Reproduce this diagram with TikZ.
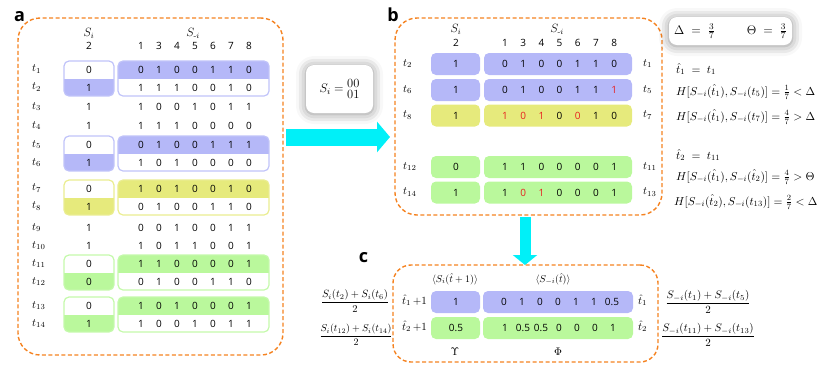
\documentclass[tikz,border=0pt]{standalone}
\usepackage{fix-cm}
\usepackage{amsmath}
\usepackage{fontspec}
\setsansfont{Open Sans}
\usetikzlibrary{arrows.meta,shadows.blur}
\definecolor{dorange}{RGB}{245,130,32}
\definecolor{cblue}{RGB}{181,184,248}
\definecolor{cyel}{RGB}{230,234,124}
\definecolor{cgreen}{RGB}{186,248,156}
\definecolor{cred}{RGB}{232,30,30}
\definecolor{ccyan}{RGB}{0,240,248}
\newcommand{\redd}[1]{\textcolor{cred}{#1}}
\newcommand{\fsz}[1]{\fontsize{#1}{#1}\selectfont}
\newcommand{\mypair}[2]{%
  \begin{scope}
    \clip[rounded corners=5pt] (64,#1) rectangle (114,#1+35);
    \fill[#2] (64,#1+17.5) rectangle (114,#1+35);
  \end{scope}
  \begin{scope}
    \clip[rounded corners=5pt] (118,#1) rectangle (269,#1+35);
    \fill[#2] (118,#1) rectangle (269,#1+17.5);
  \end{scope}
  \draw[#2!85, line width=1.2pt, rounded corners=5pt] (64,#1) rectangle (114,#1+35);
  \draw[#2!85, line width=1.2pt, rounded corners=5pt] (118,#1) rectangle (269,#1+35);
}
\tikzset{
  panel/.style={draw=dorange, dash pattern=on 4pt off 2.5pt, line width=1.4pt, rounded corners=22pt, inner sep=0pt},
  dig/.style={font=\sffamily\fsz{10}, inner sep=0pt},
  lab/.style={font=\fsz{11}, inner sep=0pt, anchor=west, text height=7pt, text depth=2.5pt},
  hdr/.style={font=\fsz{12}, inner sep=0pt},
  plabel/.style={font=\sffamily\bfseries\fsz{18}, inner sep=0pt},
  eq/.style={font=\fsz{11.5}, inner sep=0pt, anchor=west},
  frc/.style={font=\fsz{11}, inner sep=0pt},
  bigarrow/.style={draw=ccyan, line width=17pt, -{Triangle[length=13pt,width=30pt]}},
  smallarrow/.style={draw=ccyan, line width=11pt, -{Triangle[length=10pt,width=24pt]}},
  shbox/.style={fill=white, rounded corners=8pt, inner sep=0pt, blur shadow={shadow xshift=0pt, shadow yshift=-1pt, shadow blur radius=10pt, shadow opacity=45}},
}
\begin{document}
\begin{tikzpicture}[x=1pt,y=-1pt]
\useasboundingbox (0,0) rectangle (831,373);
% ---------------- panel a
\node[plabel] (la) at (19.5,17) {a};
\node[panel, minimum width=265pt, minimum height=337pt] (pa) at (150.5,186.5) {};
\node[hdr] (ahs) at (89,33) {$S_i$};
\node[dig] (ah2) at (89,46) {2};
\node[hdr] (ahm) at (193,33) {$S_{\text{-}i}$};
\foreach \v [count=\c] in {1,3,4,5,6,7,8} {\node[dig] (ahc\c) at (123+18*\c,46) {\v};}
\mypair{61}{cblue}
\mypair{136}{cblue}
\mypair{180}{cyel}
\mypair{255}{cgreen}
\mypair{297}{cgreen}
\foreach \y/\n/\s/\vals in {
69.5/1/0/{0,1,0,0,1,1,0},
87.5/2/1/{1,1,1,0,0,1,0},
107/3/1/{1,0,0,1,0,1,1},
126/4/1/{1,1,1,0,0,0,0},
145/5/0/{0,1,0,0,1,1,1},
163/6/1/{1,0,1,0,0,0,0},
188.5/7/0/{1,0,1,0,0,1,0},
206.5/8/1/{0,1,0,0,1,1,0},
228/9/1/{0,0,1,0,0,1,1},
246/10/1/{1,0,1,1,0,0,1},
264/11/0/{1,1,0,0,0,0,1},
282/12/0/{0,1,0,0,1,1,0},
306/13/0/{1,0,1,0,0,0,1},
324/14/1/{1,0,0,1,0,1,1}}{
  \node[lab] (at\n) at (32,\y) {$t_{\n}$};
  \node[dig] (as\n) at (89,\y) {\s};
  \foreach \v [count=\c] in \vals {\node[dig] (a\n-\c) at (123+18*\c,\y) {\v};}
}
% ---------------- middle box
\node[shbox, minimum width=67pt, minimum height=48pt, font=\fsz{12.5}] (sbox) at (339.5,89) {$S_i=\vcenter{\hbox{\shortstack{00\\01}}}$};
\coordinate (ab1) at (286,137);
\coordinate (ab2) at (390,137);
\draw[bigarrow] (ab1) -- (ab2);
% ---------------- panel b
\node[plabel] (lb) at (393,15) {b};
\node[panel, minimum width=267pt, minimum height=197pt] (pb) at (528.5,116.5) {};
\node[hdr] (bhs) at (456,29) {$S_i$};
\node[dig] (bh2) at (456,43) {2};
\node[hdr] (bhm) at (557,29) {$S_{\text{-}i}$};
\foreach \v [count=\c] in {1,3,4,5,6,7,8} {\node[dig] (bhc\c) at (486.8+18.2*\c,43) {\v};}
\foreach \y/\l/\r/\col/\s/\vals in {
64/2/1/cblue/1/{0,1,0,0,1,1,0},
90/6/5/cblue/1/{0,1,0,0,1,1,\redd{1}},
115.5/8/7/cyel/1/{\redd{1},\redd{0},\redd{1},0,\redd{0},1,0},
167/12/11/cgreen/0/{1,1,0,0,0,0,1},
192.5/14/13/cgreen/1/{1,\redd{0},\redd{1},0,0,0,1}}{
  \fill[\col, rounded corners=5pt] (431,\y-11) rectangle (480,\y+11);
  \fill[\col, rounded corners=5pt] (484,\y-11) rectangle (632,\y+11);
  \node[lab] (bl\l) at (403,\y) {$t_{\l}$};
  \node[lab] (br\r) at (643,\y) {$t_{\r}$};
  \node[dig] (bs\l) at (456,\y) {\s};
  \foreach \v [count=\c] in \vals {\node[dig] (b\l-\c) at (486.8+18.2*\c,\y) {\v};}
}
% ---------------- right annotations
\node[shbox, minimum width=123pt, minimum height=28pt, font=\fsz{12.5}] (dbox) at (730.5,31) {$\Delta\;=\;\frac{3}{7}\qquad\;\;\Theta\;=\;\frac{3}{7}$};
\node[eq] (e1) at (676,69) {$\hat{t}_1\;=\;t_1$};
\node[eq] (e2) at (676,92) {$H[S_{-i}(\hat{t}_1),S_{-i}(t_5)]=\frac{1}{7}<\Delta$};
\node[eq] (e3) at (676,117) {$H[S_{-i}(\hat{t}_1),S_{-i}(t_7)]=\frac{4}{7}>\Delta$};
\node[eq] (e4) at (676,155) {$\hat{t}_2\;=\;t_{11}$};
\node[eq] (e5) at (676,177) {$H[S_{-i}(\hat{t}_1),S_{-i}(\hat{t}_2)]=\frac{4}{7}>\Theta$};
\node[eq] (e6) at (674,202) {$H[S_{-i}(\hat{t}_2),S_{-i}(t_{13})]=\frac{2}{7}<\Delta$};
% ---------------- arrow b -> c
\coordinate (bc1) at (525,217);
\coordinate (bc2) at (525,265);
\draw[smallarrow] (bc1) -- (bc2);
% ---------------- panel c
\node[plabel] (lc) at (363.5,258) {c};
\node[panel, rounded corners=18pt, minimum width=265pt, minimum height=97pt] (pc) at (525.5,313.5) {};
\node[frc, font=\fsz{10}] (chs) at (455,279) {$\langle S_i(\hat{t}+1)\rangle$};
\node[frc, font=\fsz{10}] (chm) at (553,279) {$\langle S_{-i}(\hat{t})\rangle$};
\fill[cblue, rounded corners=5pt] (431,291) rectangle (480,313);
\fill[cblue, rounded corners=5pt] (483,291) rectangle (633,313);
\fill[cgreen, rounded corners=5pt] (431,317) rectangle (480,339);
\fill[cgreen, rounded corners=5pt] (483,317) rectangle (633,339);
\node[lab] (cl1) at (402,302) {$\hat{t}_1\,{+}1$};
\node[lab] (cl2) at (402,328) {$\hat{t}_2\,{+}1$};
\node[lab] (cr1) at (638,302) {$\hat{t}_1$};
\node[lab] (cr2) at (638,328) {$\hat{t}_2$};
\node[dig] (cs1) at (456,302) {1};
\node[dig] (cs2) at (456,328) {0.5};
\foreach \v [count=\c] in {0,1,0,0,1,1,0.5} {\node[dig] (c1-\c) at (486+18*\c,302) {\v};}
\foreach \v [count=\c] in {1,0.5,0.5,0,0,0,1} {\node[dig] (c2-\c) at (487+18*\c,328) {\v};}
\node[frc] (cy) at (455,352) {$\Upsilon$};
\node[frc] (cphi) at (558,352) {$\Phi$};
\node[frc, font=\fsz{10.5}] (fl1) at (355,301) {$\dfrac{S_i(t_2)+S_i(t_6)}{2}$};
\node[frc, font=\fsz{10}] (fl2) at (356,335) {$\dfrac{S_i(t_{12})+S_i(t_{14})}{2}$};
\node[frc] (fr1) at (708,302) {$\dfrac{S_{-i}(t_1)+S_{-i}(t_5)}{2}$};
\node[frc] (fr2) at (708,335) {$\dfrac{S_{-i}(t_{11})+S_{-i}(t_{13})}{2}$};
\end{tikzpicture}
\end{document}
